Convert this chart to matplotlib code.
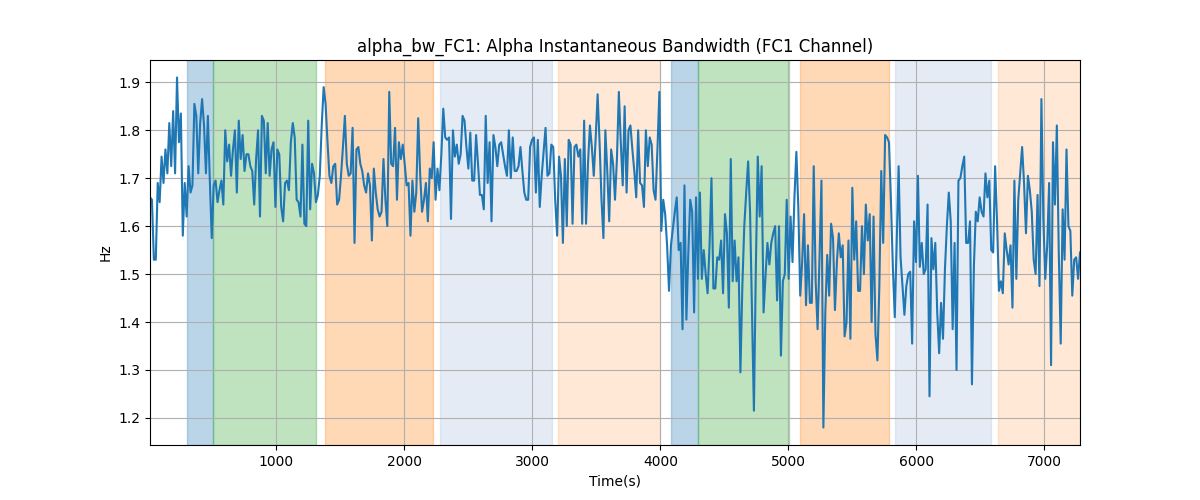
import numpy as np
import matplotlib
matplotlib.use("Agg")
import matplotlib.pyplot as plt

# alpha bandwidth readings (Hz), evenly sampled in time
bw_hz = [
    1.66, 1.655, 1.53, 1.53, 1.69, 1.65, 1.745, 1.69, 1.76, 1.71, 1.815, 1.725, 1.84, 1.71, 1.91, 1.775,
    1.835, 1.58, 1.69, 1.62, 1.725, 1.67, 1.685, 1.855, 1.83, 1.71, 1.815, 1.865, 1.81, 1.71, 1.83, 1.695,
    1.575, 1.685, 1.695, 1.65, 1.675, 1.695, 1.645, 1.80, 1.735, 1.77, 1.705, 1.76, 1.80, 1.67, 1.82, 1.74,
    1.79, 1.715, 1.75, 1.75, 1.725, 1.715, 1.645, 1.74, 1.80, 1.62,
    1.83, 1.82, 1.71, 1.815, 1.705, 1.76, 1.775, 1.64, 1.76, 1.75, 1.64, 1.61, 1.69, 1.695, 1.675, 1.775,
    1.815, 1.785, 1.655, 1.65, 1.62, 1.77, 1.605, 1.60, 1.82, 1.635, 1.73, 1.71, 1.65, 1.665, 1.705, 1.81,
    1.89, 1.855, 1.775, 1.705, 1.69, 1.725, 1.73, 1.645, 1.655, 1.705, 1.765, 1.83, 1.73, 1.705, 1.71, 1.805,
    1.565, 1.76, 1.765, 1.73, 1.715, 1.685, 1.67, 1.71, 1.685, 1.57, 1.72, 1.67,
    1.635, 1.62, 1.63, 1.74, 1.655, 1.60, 1.88, 1.73, 1.725, 1.805, 1.655, 1.775, 1.74, 1.77, 1.73, 1.685,
    1.69, 1.58, 1.695, 1.63, 1.67, 1.825, 1.71, 1.63, 1.655, 1.69, 1.61, 1.72, 1.70, 1.775, 1.655, 1.72,
    1.675, 1.75, 1.845, 1.785, 1.78, 1.785, 1.615, 1.80, 1.745, 1.77, 1.73, 1.75, 1.83, 1.82, 1.765, 1.72,
    1.795, 1.695, 1.695, 1.79, 1.73, 1.665, 1.665, 1.635, 1.83, 1.69, 1.775, 1.61, 1.79,
    1.765, 1.725, 1.77, 1.775, 1.75, 1.725, 1.705, 1.80, 1.70, 1.785, 1.715, 1.715, 1.725, 1.765, 1.715,
    1.67, 1.655, 1.655, 1.765, 1.78, 1.785, 1.67, 1.78, 1.64, 1.705, 1.755, 1.805, 1.705, 1.71, 1.77, 1.765,
    1.655, 1.58, 1.745, 1.705, 1.565, 1.74, 1.60, 1.78, 1.77, 1.605, 1.765, 1.77, 1.745, 1.76, 1.605, 1.82,
    1.605, 1.73, 1.81, 1.765, 1.705, 1.785, 1.875, 1.775, 1.655, 1.575, 1.80, 1.715, 1.61,
    1.76, 1.73, 1.655, 1.74, 1.88, 1.775, 1.685, 1.85, 1.67, 1.80, 1.81, 1.76, 1.715, 1.66, 1.80, 1.69,
    1.685, 1.64, 1.80, 1.725, 1.785, 1.77, 1.675, 1.655, 1.76, 1.88, 1.59, 1.655, 1.625, 1.56, 1.465, 1.56,
    1.595, 1.63, 1.66, 1.55, 1.565, 1.385, 1.685, 1.405, 1.545, 1.655, 1.63, 1.42, 1.66, 1.49, 1.67, 1.49,
    1.55, 1.50, 1.46, 1.56, 1.70, 1.47, 1.47, 1.535, 1.53, 1.57, 1.46, 1.625,
    1.585, 1.43, 1.74, 1.485, 1.57, 1.485, 1.535, 1.295, 1.475, 1.60, 1.67, 1.735, 1.63, 1.42, 1.215, 1.515,
    1.745, 1.62, 1.725, 1.42, 1.495, 1.565, 1.52, 1.565, 1.585, 1.60, 1.445, 1.60, 1.33, 1.485, 1.50, 1.655,
    1.49, 1.62, 1.525, 1.66, 1.755, 1.64, 1.455, 1.525, 1.625, 1.435, 1.56, 1.44, 1.44, 1.725, 1.485, 1.385,
    1.535, 1.695, 1.18, 1.42, 1.54, 1.455, 1.605, 1.575, 1.425, 1.525, 1.585, 1.535,
    1.56, 1.37, 1.40, 1.57, 1.365, 1.68, 1.53, 1.61, 1.465, 1.465, 1.60, 1.50, 1.645, 1.57, 1.625, 1.40,
    1.62, 1.375, 1.32, 1.475, 1.715, 1.565, 1.79, 1.785, 1.775, 1.655, 1.515, 1.41, 1.57, 1.725, 1.535, 1.475,
    1.415, 1.475, 1.50, 1.505, 1.355, 1.61, 1.525, 1.705, 1.515, 1.565, 1.50, 1.51, 1.645, 1.245, 1.575, 1.51,
    1.565, 1.42, 1.335, 1.44, 1.365, 1.51, 1.60, 1.67, 1.61, 1.385, 1.565, 1.30, 1.695,
    1.70, 1.725, 1.745, 1.565, 1.565, 1.61, 1.27, 1.515, 1.63, 1.61, 1.66, 1.63, 1.62, 1.71, 1.66, 1.695,
    1.55, 1.545, 1.725, 1.61, 1.465, 1.485, 1.46, 1.585, 1.55, 1.52, 1.56, 1.43, 1.695, 1.49, 1.655, 1.71,
    1.765, 1.69, 1.585, 1.705, 1.675, 1.63, 1.53, 1.50, 1.665, 1.475, 1.865, 1.615, 1.49, 1.56, 1.69, 1.31,
    1.775, 1.645, 1.81, 1.545, 1.355, 1.635, 1.53, 1.76, 1.60, 1.59, 1.455, 1.53, 1.535, 1.49, 1.545,
]
t_start, t_end = 12, 7278

# shaded stages: (start, end, colour, alpha)
stage_start = [301, 504, 1379, 2277, 3199, 4082, 4293, 5090, 5832, 6637]
stage_end = [504, 1309, 2223, 3152, 3996, 4293, 5004, 5785, 6582, 7278]
stage_color = ["tab:blue", "tab:green", "tab:orange", "lightsteelblue", "tab:orange",
               "tab:blue", "tab:green", "tab:orange", "lightsteelblue", "tab:orange"]
stage_alpha = [0.3, 0.3, 0.3, 0.33, 0.17, 0.3, 0.3, 0.3, 0.33, 0.17]

t = np.linspace(t_start, t_end, len(bw_hz))

fig, ax = plt.subplots(figsize=(12, 5), dpi=100)
for s, e, c, a in zip(stage_start, stage_end, stage_color, stage_alpha):
    ax.axvspan(s, e, color=c, alpha=a)
ax.plot(t, bw_hz, color="tab:blue")
ax.set_xlim(t_start, t_end)
ax.grid(True)
ax.set_title("alpha_bw_FC1: Alpha Instantaneous Bandwidth (FC1 Channel)")
ax.set_xlabel("Time(s)")
ax.set_ylabel("Hz")

fig.savefig("out.png")
